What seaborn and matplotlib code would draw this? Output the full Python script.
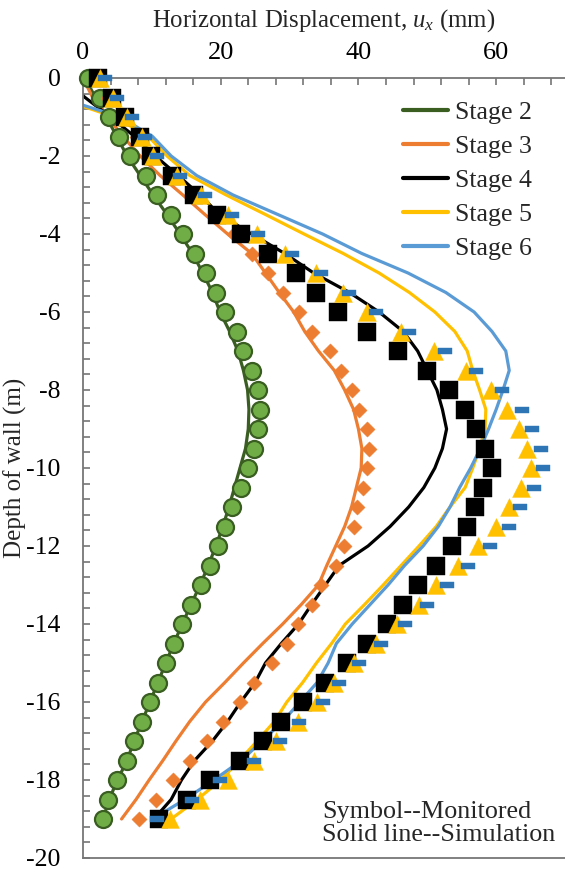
import matplotlib
matplotlib.use("Agg")
import matplotlib.pyplot as plt
import seaborn as sns
from matplotlib.path import Path
from matplotlib.lines import Line2D
from matplotlib.ticker import MultipleLocator

# ---- data: wall depth (m) and horizontal displacement (mm) ----
depth = [0.0, -0.5, -1.0, -1.5, -2.0, -2.5, -3.0, -3.5, -4.0, -4.5, -5.0, -5.5,
         -6.0, -6.5, -7.0, -7.5, -8.0, -8.5, -9.0, -9.5, -10.0, -10.5, -11.0,
         -11.5, -12.0, -12.5, -13.0, -13.5, -14.0, -14.5, -15.0, -15.5, -16.0,
         -16.5, -17.0, -17.5, -18.0, -18.5, -19.0]

stage_labels = ["Stage 2", "Stage 3", "Stage 4", "Stage 5", "Stage 6"]

# monitored (inclinometer) readings
s2_mon = [0.7, 2.5, 3.8, 5.2, 6.8, 9.1, 10.7, 12.8, 14.5, 16.2, 17.8, 19.3, 20.6,
          22.3, 23.3, 24.5, 25.4, 25.7, 25.4, 24.9, 23.9, 22.9, 21.7, 20.6, 19.6,
          18.4, 17.1, 15.7, 14.4, 13.2, 12.0, 10.9, 9.7, 8.6, 7.4, 6.4, 5.0, 3.6, 2.9]
s3_mon = [1.9, 3.6, 5.8, 7.8, 9.7, 12.6, 15.8, 19.1, 22.0, 24.5, 26.8, 29.0, 31.4,
          33.3, 35.8, 37.5, 39.0, 40.1, 41.2, 41.6, 41.3, 40.7, 39.8, 39.4, 37.9,
          36.8, 34.6, 33.3, 31.2, 29.6, 27.4, 24.9, 22.8, 20.3, 18.0, 15.5, 13.0, 10.6, 8.1]
s4_mon = [2.2, 4.2, 6.1, 8.3, 9.9, 12.9, 16.1, 19.4, 23.0, 26.8, 31.0, 33.9, 37.0,
          41.3, 45.7, 49.9, 53.2, 55.5, 57.1, 58.4, 59.4, 58.1, 57.0, 55.7, 53.6,
          51.2, 48.7, 46.5, 44.1, 41.2, 38.3, 35.1, 32.0, 28.8, 26.2, 22.8, 18.4, 15.1, 11.0]
s5_mon = [2.5, 4.3, 6.4, 8.6, 10.1, 13.6, 17.2, 21.0, 25.2, 29.4, 33.9, 37.7, 41.3,
          46.2, 51.0, 55.6, 59.3, 61.6, 63.3, 64.5, 65.1, 63.6, 61.9, 60.0, 57.4,
          54.5, 51.3, 48.8, 45.6, 42.6, 39.4, 36.5, 34.0, 31.2, 28.1, 24.9, 21.0, 17.0, 12.6]
s6_mon = [3.2, 4.9, 7.1, 9.0, 10.7, 14.1, 17.7, 21.6, 25.4, 30.3, 34.6, 38.7, 42.5,
          47.4, 52.5, 57.1, 60.9, 63.8, 65.2, 66.5, 66.8, 65.5, 63.5, 61.9, 59.1,
          55.9, 52.8, 50.0, 46.8, 43.3, 40.1, 37.2, 34.8, 31.4, 28.6, 24.9, 19.9, 15.8, 10.7]

# numerical simulation results
s2_sim = [0.3, 1.8, 3.4, 4.9, 6.4, 8.3, 10.2, 12.2, 14.1, 15.9, 17.4, 18.8, 19.9,
          21.3, 22.5, 23.3, 23.9, 24.1, 24.0, 23.6, 22.8, 22.0, 21.2, 20.3, 19.3,
          18.2, 17.0, 15.7, 14.4, 13.2, 12.0, 10.9, 9.7, 8.6, 7.4, 6.4, 5.0, 3.8, 2.9]
s3_sim = [0.0, 1.4, 3.6, 5.8, 8.3, 11.2, 14.5, 17.7, 21.0, 24.5, 26.5, 28.5, 30.6,
          32.2, 34.2, 36.5, 38.0, 39.3, 40.0, 40.5, 40.4, 39.7, 39.0, 38.0, 36.7,
          35.4, 34.2, 31.7, 29.0, 26.1, 23.3, 20.6, 17.8, 15.5, 13.5, 11.6, 9.6, 7.7, 5.6]
s4_sim = [-3.0, 0.3, 4.0, 7.5, 10.5, 13.8, 17.0, 19.8, 24.5, 29.3, 33.5, 38.7, 43.0,
          46.5, 48.6, 50.0, 51.4, 52.2, 52.8, 52.2, 51.1, 49.5, 47.3, 44.6, 41.4,
          37.2, 35.2, 33.2, 31.3, 28.8, 26.5, 25.0, 22.9, 21.0, 18.8, 16.2, 14.3, 12.8, 10.3]
s5_sim = [-6.0, -3.8, 4.6, 9.5, 12.2, 15.5, 20.8, 26.5, 32.1, 37.8, 43.0, 47.4, 51.1,
          54.0, 55.8, 56.6, 57.6, 58.5, 58.4, 57.6, 56.6, 55.5, 53.3, 51.3, 48.8,
          46.2, 43.6, 40.9, 38.1, 36.1, 33.9, 31.9, 29.6, 27.8, 25.3, 22.7, 20.0, 16.6, 12.8]
s6_sim = [-6.0, -3.5, 5.4, 10.1, 12.8, 16.5, 21.8, 28.3, 34.8, 40.5, 47.2, 52.7, 56.8,
          59.4, 61.4, 61.9, 61.0, 60.0, 58.9, 57.7, 56.3, 54.7, 53.3, 51.6, 49.4,
          46.7, 44.3, 41.7, 39.1, 36.8, 35.6, 34.0, 31.5, 29.0, 26.0, 23.0, 19.0, 14.8, 10.1]

# ---- styling ----
sns.set_style("ticks")
plt.rcParams["font.family"] = ["Liberation Serif", "DejaVu Serif"]
plt.rcParams["mathtext.fontset"] = "custom"
plt.rcParams["mathtext.rm"] = "Liberation Serif"
plt.rcParams["mathtext.it"] = "Liberation Serif:italic"
plt.rcParams["axes.unicode_minus"] = False

FS = 19
line_colors = ["#3A5E22", "#ED7D31", "#000000", "#FFC000", "#5B9BD5"]
sims = [s2_sim, s3_sim, s4_sim, s5_sim, s6_sim]

fig = plt.figure(figsize=(5.65, 8.75), dpi=100)
ax = fig.add_axes([83 / 565, 17 / 875, 482 / 565, 780 / 875])

# simulation curves
for xs, col in zip(sims, line_colors):
    sns.lineplot(x=xs, y=depth, sort=False, estimator=None, color=col,
                 linewidth=2.3, ax=ax, legend=False, zorder=2)

# short horizontal bar used as the Stage 6 symbol
dash = Path([(-1, -0.42), (1, -0.42), (1, 0.42), (-1, 0.42), (-1, -0.42)],
            [Path.MOVETO, Path.LINETO, Path.LINETO, Path.LINETO, Path.CLOSEPOLY])

marker_specs = [
    (s2_mon, "o", 150, "#70AD47", "#3A5E22", 1.6),
    (s3_mon, "D", 60, "#ED7D31", "#ED7D31", 0.3),
    (s4_mon, "s", 150, "#000000", "#000000", 0.3),
    (s5_mon, "^", 165, "#FFC000", "#FFC000", 0.3),
    (s6_mon, dash, 100, "#2E75B6", "#2E75B6", 0.3),
]
for xs, mk, size, fc, ec, lw in marker_specs:
    sns.scatterplot(x=xs, y=depth, marker=mk, s=size, color=fc, edgecolor=ec,
                    linewidth=lw, ax=ax, clip_on=False, zorder=3, legend=False)

# axes
ax.set_xlim(0, 70)
ax.set_ylim(-20, 0)
ax.xaxis.tick_top()
ax.xaxis.set_label_position("top")
ax.xaxis.set_major_locator(MultipleLocator(20))
ax.xaxis.set_minor_locator(MultipleLocator(4))
ax.yaxis.set_major_locator(MultipleLocator(2))
ax.yaxis.set_minor_locator(MultipleLocator(0.4))
spine_col = "#767676"
for side in ["left", "top", "bottom"]:
    ax.spines[side].set_color(spine_col)
    ax.spines[side].set_linewidth(1.3)
ax.spines["right"].set_visible(False)
ax.tick_params(axis="both", which="both", direction="in", color=spine_col,
               width=1.2, length=5, labelsize=FS, labelcolor="black")
ax.tick_params(axis="x", which="both", top=True, bottom=False, pad=10)
ax.tick_params(axis="y", which="both", right=False, pad=16, labelsize=18.5)

ax.set_xlabel(r"Horizontal Displacement, $u_x$ (mm)", fontsize=17.8, labelpad=11)
ax.set_ylabel("Depth of wall (m)", fontsize=18)
ax.yaxis.set_label_coords(-0.116, 0.5)

handles = [Line2D([0], [0], color=c, linewidth=3) for c in line_colors]
fig.legend(handles, stage_labels, loc="upper left",
           bbox_to_anchor=(403 / 565, 1 - 101 / 875), frameon=False,
           fontsize=18.6, handlelength=1.75, handletextpad=0.25,
           labelspacing=0.42, borderpad=0, borderaxespad=0)

fig.text(322 / 565, 1 - 818 / 875, "Symbol--Monitored", fontsize=18.8,
         ha="left", va="baseline")
fig.text(322 / 565, 1 - 841 / 875, "Solid line--Simulation", fontsize=18.8,
         ha="left", va="baseline")

fig.savefig("out.png", dpi=100)
